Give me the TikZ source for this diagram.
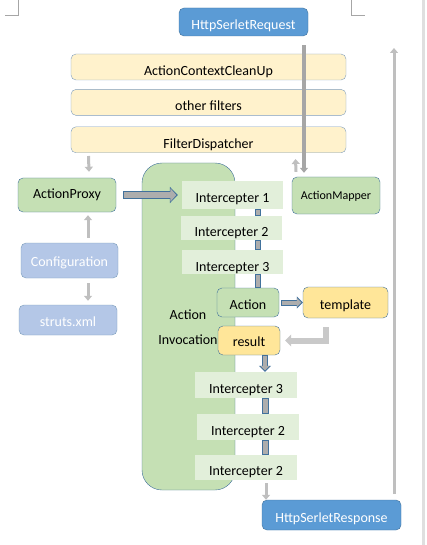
\documentclass[tikz,border=0pt]{standalone}
\usepackage{fontspec}
\setmainfont{Carlito}
\usetikzlibrary{arrows.meta,positioning}
\definecolor{edgeblue}{HTML}{41719C}
\definecolor{filtedge}{HTML}{7E9DBE}
\definecolor{reqfill}{HTML}{5B9BD5}
\definecolor{filtfill}{HTML}{FFF2CC}
\definecolor{greenfill}{HTML}{C5E0B4}
\definecolor{icfill}{HTML}{E2EFDA}
\definecolor{cfgfill}{HTML}{B4C7E7}
\definecolor{yelfill}{HTML}{FFE699}
\definecolor{arrgray}{HTML}{BFBFBF}
\definecolor{darkgray}{HTML}{A6A6A6}
\definecolor{shaftgray}{HTML}{ADADAD}

\begin{document}
\begin{tikzpicture}[
    x=1pt, y=-1pt,
    font=\fontsize{14}{16}\selectfont,
    httpbox/.style={draw=edgeblue, fill=reqfill, text=white, rounded corners=5pt, inner sep=0pt, text height=16pt, text depth=0pt},
    filt/.style={draw=filtedge, fill=filtfill, rounded corners=5pt, minimum width=275pt, minimum height=26pt, inner sep=0pt, text height=17pt, text depth=0pt},
    greenbox/.style={draw=edgeblue, fill=greenfill, rounded corners=5pt, inner sep=0pt, text height=13pt, text depth=0pt},
    cfgbox/.style={draw=edgeblue!70, fill=cfgfill, text=white, rounded corners=5pt, inner sep=0pt, text height=12pt, text depth=0pt},
    yelbox/.style={draw=edgeblue, fill=yelfill, rounded corners=5pt, inner sep=0pt, text height=13pt, text depth=0pt},
    icpt/.style={fill=icfill, inner sep=0pt, text height=16pt, text depth=0pt},
    grayarr/.style={-{Triangle[length=5pt,width=8pt]}, line width=3pt, draw=arrgray},
    bigblock/.style={-{Triangle[length=8pt,width=16pt]}, line width=8.5pt, draw=edgeblue,
        postaction={draw=shaftgray, line width=6.5pt, shorten <=1pt, shorten >=1.5pt, -{Triangle[length=6pt,width=13pt]}}},
    smallblock/.style={-{Triangle[length=6pt,width=12pt]}, line width=6pt, draw=edgeblue,
        postaction={draw=shaftgray, line width=4pt, shorten <=1pt, shorten >=1.5pt, -{Triangle[length=4.5pt,width=9pt]}}},
    link/.style={line width=6.5pt, draw=edgeblue, postaction={draw=shaftgray, line width=4.5pt, shorten <=1pt, shorten >=1pt}},
    pagemark/.style={draw=gray!70, line width=0.8pt}
]
\useasboundingbox (0,0) rectangle (427,545);
\fill[gray!25] (422,0) rectangle (425,545);
\draw[pagemark] (5,15) -- (18,15) -- (18,0);
\draw[pagemark] (351,0) -- (351,15) -- (365,15);

\node[httpbox, minimum width=129pt, minimum height=28pt] (req) at (243.5,22) {HttpSerletRequest};
\node[filt] (acc) at (208.5,67) {ActionContextCleanUp};
\node[filt, below=9pt of acc] (oth) {other filters};
\node[filt, below=11pt of oth] (fd) {FilterDispatcher};

\node[draw=edgeblue, fill=greenfill, rounded corners=20pt, minimum width=93pt, minimum height=327pt] (inv) at (188.5,326.5) {};
\node[align=center] (invlbl) at (188,327) {Action\\[9pt]Invocation};

\node[greenbox, minimum width=98pt, minimum height=34pt, text height=8pt] (proxy) at (67,195) {ActionProxy};
\node[greenbox, minimum width=88pt, minimum height=37pt, text height=8pt, font=\fontsize{12}{14}\selectfont] (mapper) at (336,195.5) {ActionMapper};
\node[cfgbox, minimum width=97pt, minimum height=35pt] (cfg) at (69.5,260.5) {Configuration};
\node[cfgbox, minimum width=98pt, minimum height=30pt] (xml) at (68,320) {struts.xml};

\node[icpt, minimum width=101pt, minimum height=28pt, text height=14pt] (ic1) at (232.5,195) {Intercepter 1};
\node[icpt, minimum width=101pt, minimum height=24pt, text height=17pt] (ic2) at (231.5,228) {Intercepter 2};
\node[icpt, minimum width=101pt, minimum height=24pt, text height=18pt] (ic3) at (232.5,262) {Intercepter 3};
\node[greenbox, minimum width=62pt, minimum height=29pt] (act) at (248,302.5) {Action};
\node[yelbox, minimum width=85pt, minimum height=31pt] (tpl) at (345.5,302.5) {template};
\node[yelbox, minimum width=62pt, minimum height=29pt, text height=12pt] (res) at (249,340.5) {result};
\node[icpt, minimum width=102pt, minimum height=26pt] (ic4) at (246,385) {Intercepter 3};
\node[icpt, minimum width=102pt, minimum height=26pt] (ic5) at (248,427) {Intercepter 2};
\node[icpt, minimum width=102pt, minimum height=25pt] (ic6) at (246,467.5) {Intercepter 2};
\node[httpbox, minimum width=139pt, minimum height=30pt, text height=15pt] (resp) at (331.5,515) {HttpSerletResponse};

\coordinate (backbot) at (394,494);
\coordinate (backtop) at (394,48);

\draw[grayarr, draw=darkgray, line width=4pt] ([xshift=60.5pt,yshift=-9pt]req.south) -- ([xshift=-32pt,yshift=4pt]mapper.north);
\draw[grayarr] ([xshift=-40pt,yshift=5pt]mapper.north) -- ([xshift=87pt,yshift=-6pt]fd.south);
\draw[grayarr] ([xshift=-120pt,yshift=-3pt]fd.south) -- ([xshift=22pt,yshift=6pt]proxy.north);
\draw[grayarr] ([xshift=18.5pt,yshift=5pt]cfg.north) -- ([xshift=21pt,yshift=-3pt]proxy.south);
\draw[grayarr] ([xshift=18.5pt,yshift=-5pt]cfg.south) -- ([xshift=20pt,yshift=4pt]xml.north);
\draw[grayarr] (backbot) -- (backtop);
\draw[grayarr, line width=6pt, draw=arrgray!85, -{Triangle[length=6pt,width=12pt]}] ([xshift=-20pt,yshift=-9pt]tpl.south) |- ([xshift=5pt]res.east);
\draw[grayarr] ([xshift=20pt,yshift=-3pt]ic6.south) -- ([xshift=-65.5pt]resp.north);

\draw[bigblock] ([xshift=7pt]proxy.east) -- ([xshift=-4pt]ic1.west);
\draw[smallblock] ([xshift=2pt]act.east) -- (tpl.west);
\draw[smallblock] ([xshift=16pt]res.south) -- ([xshift=19pt]ic4.north);

\draw[link] ([xshift=25.5pt]ic1.south) -- ([xshift=26.5pt]ic2.north);
\draw[link] ([xshift=26.5pt]ic2.south) -- ([xshift=25.5pt]ic3.north);
\draw[link] ([xshift=25.5pt]ic3.south) -- ([xshift=10pt]act.north);
\draw[link] ([xshift=19.5pt]ic4.south) -- ([xshift=17.5pt]ic5.north);
\draw[link] ([xshift=17.5pt]ic5.south) -- ([xshift=19.5pt]ic6.north);
\end{tikzpicture}
\end{document}
